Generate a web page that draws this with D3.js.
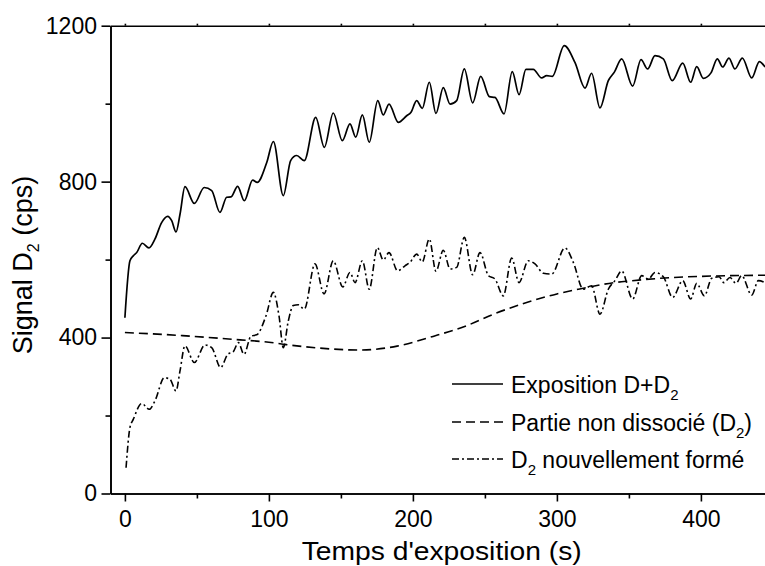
<!DOCTYPE html>
<html>
<head>
<meta charset="utf-8">
<script src="https://cdn.jsdelivr.net/npm/d3@7"></script>
<style>
  html, body { margin: 0; padding: 0; background: #fff; }
  svg { display: block; }
  text { font-family: "Liberation Sans", Arial, sans-serif; fill: #000; }
</style>
</head>
<body>
<svg id="chart" width="765" height="566"></svg>
<script>
// ---------- data ----------
const solidT = [0, 3.5, 5.9, 8.2, 12.1, 16.7, 20.9, 25.5, 29.7, 32.5, 35.5, 38.3, 41.7, 48.2, 55.1, 60.3, 66.0, 70.7, 73.7, 78.3, 82.9, 88.7, 91.9, 98.5, 103.1, 110.0, 115.1, 119.3, 124.6, 132.5, 138.5, 144.7, 151.0, 156.3, 160.3, 164.9, 169.7, 175.6, 179.4, 183.4, 189.9, 195.7, 198.7, 202.6, 206.5, 211.4, 216.0, 221.1, 225.8, 230.4, 235.7, 241.5, 247.1, 253.1, 257.0, 263.3, 269.0, 273.7, 278.5, 283.6, 289.4, 292.9, 296.8, 305.1, 312.6, 319.5, 324.1, 329.9, 335.7, 339.9, 345.0, 352.6, 358.4, 363.0, 368.1, 373.9, 380.1, 387.4, 392.9, 397.1, 401.7, 407.0, 411.4, 415.1, 419.5, 423.6, 428.8, 435.3, 440.6, 444.5];
const solidV = [451, 597, 610, 618, 642, 630, 653, 695, 711, 700, 671, 717, 787, 744, 785, 777, 721, 760, 761, 788, 751, 804, 798, 849, 903, 764, 854, 867, 854, 965, 888, 976, 905, 948, 914, 971, 901, 1008, 971, 999, 952, 969, 978, 1008, 988, 1055, 975, 1041, 999, 1008, 1089, 1002, 1070, 1018, 1016, 974, 1082, 1023, 1088, 1088, 1066, 1072, 1070, 1149, 1105, 1040, 1078, 989, 1059, 1081, 1115, 1045, 1113, 1089, 1123, 1115, 1059, 1104, 1055, 1095, 1065, 1079, 1115, 1094, 1117, 1089, 1117, 1066, 1108, 1094];

const dashT = [0, 40, 80, 100, 112, 135, 163, 189, 214, 237, 256, 279, 300, 315, 340, 350, 380, 400, 445];
const dashV = [413, 405, 394, 388, 382, 373, 368, 378, 403, 430, 460, 490, 512, 524, 541, 545, 554, 557, 560];

const dotT = [0.8, 3.5, 5.8, 11.7, 16.9, 20.9, 27.4, 31.3, 35.5, 38.3, 41.7, 48.2, 55.6, 60.3, 66.5, 71.4, 75.3, 78.8, 82.7, 87.6, 91.5, 98.0, 103.1, 107.0, 110.0, 113.5, 116.9, 120.4, 124.6, 132.0, 138.3, 144.7, 151.3, 156.3, 159.8, 164.9, 169.7, 175.3, 179.4, 183.4, 189.4, 194.5, 198.0, 202.6, 206.5, 211.4, 216.0, 221.1, 225.8, 230.4, 235.7, 241.5, 246.6, 252.4, 257.0, 262.8, 268.6, 273.7, 280.1, 284.8, 290.6, 296.4, 305.6, 311.4, 318.3, 324.1, 329.9, 335.7, 340.3, 345.0, 352.6, 358.9, 363.5, 368.1, 373.9, 380.4, 387.4, 392.9, 397.1, 402.4, 407.5, 412.6, 416.0, 420.2, 424.4, 428.3, 435.3, 439.9, 444.5];
const dotV = [66, 169, 190, 231, 216, 238, 297, 293, 263, 315, 379, 336, 381, 374, 323, 357, 364, 387, 357, 404, 407, 456, 516, 456, 374, 443, 482, 484, 473, 589, 512, 597, 530, 567, 541, 597, 524, 631, 599, 618, 571, 584, 593, 614, 594, 653, 570, 624, 576, 580, 657, 561, 618, 559, 550, 507, 604, 541, 597, 589, 565, 563, 630, 593, 524, 533, 460, 524, 546, 571, 499, 559, 550, 567, 556, 503, 546, 499, 539, 507, 552, 556, 541, 554, 539, 559, 509, 546, 541];

const xMajorTicks = [0, 100, 200, 300, 400];
const xMinorTicks = [50, 150, 250, 350];
const yMajorTicks = [0, 400, 800, 1200];
const yMinorTicks = [200, 600, 1000];

const legendLabels = [
  ["Exposition D+D", "2", ""],
  ["Partie non dissocié (D", "2", ")"],
  ["D", "2", " nouvellement formé"]
];
const xTitle = "Temps d'exposition (s)";

// ---------- layout ----------
const svg = d3.select("#chart");
const x = d3.scaleLinear().domain([-10, 450]).range([110.5, 772.9]);
const y = d3.scaleLinear().domain([0, 1200]).range([493.5, 25.7]);
const X0 = x.range()[0], Y0 = y.range()[0], Ytop = y.range()[1];
const fmt = d3.format("d");

// ---------- axes ----------
svg.append("g").attr("transform", `translate(0,${Y0})`)
  .call(d3.axisBottom(x).tickValues(xMajorTicks).tickSize(8).tickSizeOuter(0).tickPadding(9.5).tickFormat(fmt));
svg.append("g").attr("transform", `translate(0,${Y0})`)
  .call(d3.axisBottom(x).tickValues(xMinorTicks).tickSize(5).tickSizeOuter(0).tickFormat(""));
svg.append("g").attr("transform", `translate(${X0},0)`)
  .call(d3.axisLeft(y).tickValues(yMajorTicks).tickSize(9).tickSizeOuter(0).tickPadding(4.5).tickFormat(fmt));
svg.append("g").attr("transform", `translate(${X0},0)`)
  .call(d3.axisLeft(y).tickValues(yMinorTicks).tickSize(5).tickSizeOuter(0).tickFormat(""));
// top frame
svg.append("g").attr("transform", `translate(0,${Ytop})`)
  .call(d3.axisTop(x).tickValues(xMajorTicks.concat(xMinorTicks)).tickSize(2).tickSizeOuter(0).tickFormat(""));

svg.selectAll(".domain, .tick line").attr("stroke", "#000").attr("stroke-width", 1.6);
svg.selectAll(".tick text").attr("font-size", 23).attr("font-family", "Liberation Sans, Arial, sans-serif").attr("fill", "#000");

// ---------- lines ----------
const line = d3.line().x(d => x(d[0])).y(d => y(d[1])).curve(d3.curveMonotoneX);
const zip = (a, b) => a.map((t, i) => [t, b[i]]);

svg.append("path").datum(zip(dashT, dashV)).attr("d", line)
  .attr("fill", "none").attr("stroke", "#000").attr("stroke-width", 1.6).attr("stroke-dasharray", "9,5");
svg.append("path").datum(zip(dotT, dotV)).attr("d", line)
  .attr("fill", "none").attr("stroke", "#000").attr("stroke-width", 1.6).attr("stroke-dasharray", "7,3,2,3");
svg.append("path").datum(zip(solidT, solidV)).attr("d", line)
  .attr("fill", "none").attr("stroke", "#000").attr("stroke-width", 1.7);

// ---------- titles ----------
svg.append("text").attr("x", 441.7).attr("y", 560).attr("text-anchor", "middle")
  .attr("font-size", 26).attr("textLength", 280).attr("lengthAdjust", "spacingAndGlyphs").text(xTitle);

const yt = svg.append("text").attr("transform", "translate(32,265) rotate(-90)")
  .attr("text-anchor", "middle").attr("font-size", 27);
yt.append("tspan").text("Signal D");
yt.append("tspan").attr("font-size", 16).attr("dy", 7).text("2");
yt.append("tspan").attr("dy", -7).text(" (cps)");

// ---------- legend ----------
const dashes = [null, "9,5", "7,3,2,3"];
const legY = [393, 431, 468];
legendLabels.forEach((lab, i) => {
  svg.append("line").attr("x1", 452).attr("x2", 503).attr("y1", legY[i] - 9).attr("y2", legY[i] - 9)
    .attr("stroke", "#000").attr("stroke-width", 1.6)
    .attr("stroke-dasharray", dashes[i]);
  const t = svg.append("text").attr("x", 511).attr("y", legY[i]).attr("font-size", 23);
  t.append("tspan").text(lab[0]);
  t.append("tspan").attr("font-size", 15).attr("dy", 7).text(lab[1]);
  if (lab[2]) t.append("tspan").attr("dy", -7).text(lab[2]);
});
</script>
</body>
</html>
